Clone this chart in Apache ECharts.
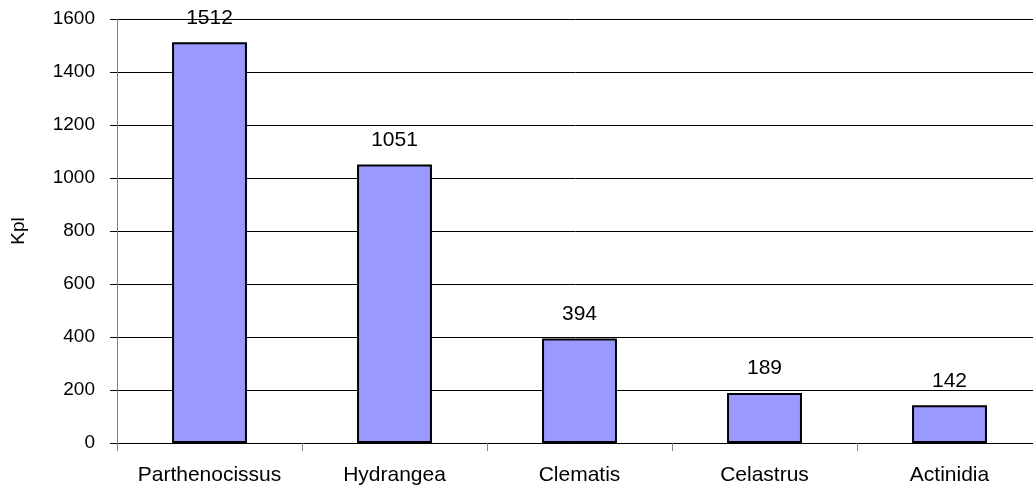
<!DOCTYPE html>
<html><head><meta charset="utf-8">
<script src="https://cdn.jsdelivr.net/npm/echarts@6/dist/echarts.min.js"></script>
<style>html,body{margin:0;padding:0;background:#fff}#c{width:1033px;height:488px}</style>
</head><body><div id="c"></div>
<script>
const categories = ['Parthenocissus','Hydrangea','Clematis','Celastrus','Actinidia'];
const values = [1512, 1051, 394, 189, 142];
const yTicks = [0, 200, 400, 600, 800, 1000, 1200, 1400, 1600];
const yName = 'Kpl';
const chart = echarts.init(document.getElementById('c'));
chart.setOption({
  animation: false,
  grid: {left: 117, width: 925, top: 19, height: 424, containLabel: false, outerBoundsMode: 'none'},
  xAxis: {
    type: 'category', data: categories,
    axisLine: {lineStyle: {color: '#000', width: 1}},
    axisTick: {show: true, length: 8, lineStyle: {color: '#808080'}},
    axisLabel: {color: '#000', fontFamily: 'Liberation Sans', fontSize: 21, margin: 22, interval: 0, hideOverlap: false}
  },
  yAxis: {
    type: 'value', min: yTicks[0], max: yTicks[yTicks.length-1], interval: 200,
    name: yName, nameLocation: 'middle', nameGap: 89, nameRotate: 90,
    nameTextStyle: {color: '#000', fontFamily: 'Liberation Sans', fontSize: 19},
    axisLine: {show: true, lineStyle: {color: '#808080'}},
    axisTick: {show: true, length: 7, lineStyle: {color: '#000'}},
    axisLabel: {color: '#000', fontFamily: 'Liberation Sans', fontSize: 19, margin: 22,
      formatter: v => String(v)},
    splitLine: {lineStyle: {color: '#000', width: 1}}
  },
  series: [{
    type: 'bar', data: values, barWidth: '40.5%',
    itemStyle: {color: '#9999FF', borderColor: '#000', borderWidth: 2},
    label: {show: true, position: 'top', distance: 14, color: '#000', fontFamily: 'Liberation Sans', fontSize: 21}
  }]
});
</script></body></html>
